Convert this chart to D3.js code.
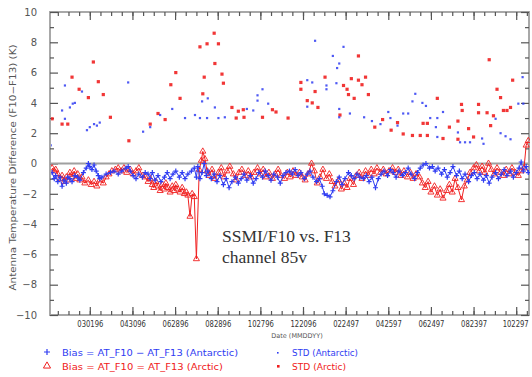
<!DOCTYPE html>
<html><head><meta charset="utf-8">
<script src="https://cdn.jsdelivr.net/npm/d3@7"></script>
<style>
html,body{margin:0;padding:0;background:#fff;}
svg{display:block;}
</style></head>
<body>
<svg id="c" width="532" height="377"></svg>
<script>
// ---- data (days since 1 Jan 1996) ----
const tickDays = [60,120,180,240,300,360,420,480,540,600,660];
const tickLabels = ["030196","043096","062896","082896","102796","122096","022497","042597","062497","082397","102297"];
const yTicks = [-10,-8,-6,-4,-2,0,2,4,6,8,10];

const biasAntDays = [7,10,12,15,18,21,24,27,29,32,35,39,43,46,51,55,58,60,63,66,69,72,74,77,83,89,94,100,105,111,114,117,121,125,129,134,138,142,145,148,152,156,160,165,169,173,177,181,186,190,194,198,203,207,210,212,215,218,221,224,226,231,235,239,243,248,252,256,260,265,269,273,277,281,286,290,294,298,303,307,311,315,319,324,328,332,336,341,345,349,353,357,362,366,370,374,379,383,387,390,394,398,402,407,411,415,419,424,428,432,436,440,445,449,453,457,462,466,470,474,479,483,487,491,495,500,504,508,512,517,521,525,529,533,538,542,546,550,555,559,563,567,571,576,580,584,588,593,597,601,605,609,614,618,622,626,631,635,639,643,647,652,656,660,664,667,670,674,677];
const biasAntVals = [-0.6,-1.0,-0.8,-1.2,-0.9,-1.5,-1.1,-1.3,-0.9,-1.0,-1.2,-0.8,-0.9,-1.1,-0.6,-0.3,0.0,-0.2,-0.4,-0.1,-0.5,-0.8,-1.0,-0.9,-0.7,-0.6,-0.5,-0.7,-0.5,-0.3,-0.2,-0.5,-0.8,-1.0,-0.7,-0.9,-0.6,-0.7,-1.0,-0.6,-1.1,-0.8,-1.2,-0.9,-0.6,-1.0,-0.7,-0.5,-0.9,-0.6,-1.0,-0.7,-0.5,-0.3,-0.9,-0.2,-1.0,-0.6,0.0,-0.8,-0.5,-1.0,-0.7,-1.2,-0.8,-1.4,-1.0,-1.6,-1.2,-0.9,-1.3,-1.0,-0.7,-1.1,-0.8,-1.3,-1.0,-0.6,-0.9,-0.5,-0.8,-1.1,-0.7,-0.9,-1.3,-0.8,-0.6,-0.5,-0.7,-0.4,-0.8,-0.6,-1.0,-0.7,-0.5,-0.9,-1.2,-1.0,-1.5,-2.0,-2.1,-2.2,-1.8,-1.2,-0.9,-1.4,-1.0,-0.6,-0.8,-1.0,-0.7,-0.9,-1.0,-0.8,-1.2,-0.9,-1.6,-1.0,-0.7,-0.5,-0.8,-0.4,-0.6,-0.9,-0.5,-0.8,-0.6,-0.3,-0.7,-1.0,-0.6,-0.3,-0.1,0.0,-0.3,-0.2,-0.5,-0.3,-0.7,-0.4,-0.9,-0.6,-0.2,-0.8,-0.5,-1.0,-0.7,-1.2,-0.8,-0.6,-1.0,-0.7,-1.1,-0.8,-1.3,-0.9,-0.6,-1.0,-0.7,-0.4,-0.8,-0.5,-0.9,-0.6,-0.3,0.1,-0.5,-0.2,-0.6];

const biasArcDays = [7,10,12,15,18,21,24,27,29,32,35,38,41,43,46,49,53,58,62,66,70,74,79,83,87,91,96,100,104,108,112,117,121,125,129,134,138,142,145,148,150,153,156,159,162,165,167,170,173,176,179,181,184,187,190,193,196,198,201,204,207,210,214,217,219,222,225,228,232,236,241,245,249,253,257,262,266,270,274,279,283,287,291,296,300,304,308,312,317,321,325,329,334,338,342,346,350,355,359,363,367,372,376,380,384,388,393,397,401,405,410,414,418,422,426,431,435,439,443,448,452,456,460,464,469,473,477,481,486,490,494,498,502,507,511,515,519,524,528,532,536,540,545,549,553,557,562,566,570,574,578,583,587,591,595,600,604,608,612,616,621,625,629,633,638,642,646,650,654,659,663,667,671,674,677];
const biasArcVals = [-0.3,-0.5,-0.4,-0.7,-1.0,-0.8,-1.2,-0.9,-1.1,-0.6,-0.9,-0.5,-1.0,-0.7,-1.1,-0.9,-1.3,-1.1,-1.4,-1.2,-1.5,-1.1,-1.3,-0.9,-0.7,-0.5,-0.4,-0.3,-0.5,-0.3,-0.6,-0.4,-0.7,-0.5,-0.3,-0.8,-0.9,-1.2,-1.0,-1.4,-1.6,-1.2,-1.5,-1.8,-1.4,-1.7,-1.3,-1.6,-1.9,-1.5,-1.8,-1.4,-1.7,-1.9,-1.6,-2.0,-1.9,-2.1,-3.5,-2.0,-2.2,-6.3,-0.4,0.2,0.8,0.3,-0.5,-0.8,-0.4,-1.0,-0.6,-0.3,-0.9,-0.5,-0.2,-0.7,-1.1,-0.6,-0.4,-0.8,-0.5,-0.9,-0.6,-0.3,-0.7,-0.4,-0.9,-0.6,-1.0,-0.7,-0.4,-0.8,-1.0,-0.6,-0.9,-0.5,-0.8,-0.6,-0.9,-1.1,-0.7,0.0,-0.5,-1.3,-0.9,-0.4,-1.0,-0.7,-1.2,-1.5,-1.1,-1.7,-1.3,-1.6,-1.0,-1.4,-0.8,-0.6,-1.0,-0.5,-0.8,-0.4,-0.7,-0.3,-0.6,-0.4,-0.7,-0.5,-0.3,-0.6,-0.4,-0.8,-0.5,-0.9,-0.6,-1.0,-0.7,-0.9,-1.3,-1.6,-1.2,-1.9,-1.5,-2.1,-1.7,-2.3,-1.8,-1.4,-1.9,-1.0,-1.6,-2.4,-1.5,-1.1,-0.6,-0.3,-0.1,-0.5,-0.2,-0.6,0.0,-0.4,-0.7,-0.3,-0.6,-0.8,-0.4,-0.7,-0.3,-0.6,-0.8,-0.5,-0.3,1.2,1.5];

const stdAntDays = [5,21,25,25,32,36,39,49,56,60,66,70,74,114,135,145,159,176,194,208,215,218,225,226,236,241,250,281,290,296,296,303,311,366,373,366,377,393,393,402,407,408,411,411,411,417,426,446,457,469,480,483,493,501,508,514,518,528,533,539,547,549,549,557,578,581,588,595,612,614,631,638,645,652,663,669,670];
const stdAntVals = [1.2,3.5,2.95,5.15,3.7,3.95,4.0,4.75,2.2,2.4,2.6,2.5,2.7,5.35,2.1,2.4,3.2,3.6,3.0,3.2,3.0,4.1,3.0,4.3,3.7,3.0,3.05,3.6,3.5,4.5,4.15,4.9,3.95,5.5,5.35,3.75,8.1,5.15,4.9,7.1,5.3,6.3,6.6,3.6,3.05,7.7,3.3,3.05,2.8,2.6,3.4,3.0,2.5,3.3,3.3,4.1,4.6,4.0,3.8,3.0,2.4,3.0,1.75,3.4,2.05,1.4,1.4,1.4,1.65,1.3,2.95,2.0,1.8,1.6,3.95,5.7,3.95];

const stdArcDays = [7,21,29,35,45,58,65,72,79,89,115,145,156,166,174,181,187,215,219,221,225,235,236,241,246,248,260,266,269,276,277,303,317,322,339,357,357,366,373,377,381,391,412,417,422,424,428,432,438,438,443,448,452,461,472,484,493,501,514,525,529,535,535,549,557,566,578,578,583,584,593,600,607,607,619,622,624,628,633,638,642,647,652,655];
const stdArcVals = [2.95,2.6,2.6,5.7,4.9,4.35,6.7,5.4,4.55,3.05,1.5,2.6,3.3,2.9,5.2,6.0,4.3,7.7,4.6,5.7,7.9,8.6,6.6,7.9,5.9,5.3,3.7,3.0,3.45,3.55,3.05,3.05,3.55,3.4,3.0,5.35,4.9,4.15,4.0,4.75,3.7,5.7,3.2,5.15,4.9,4.55,5.6,4.3,7.1,5.5,5.2,5.7,4.55,2.4,2.9,2.2,2.7,1.95,1.85,1.85,2.65,2.65,1.85,4.3,1.65,2.4,2.8,1.6,3.9,3.5,2.3,1.75,3.9,3.35,3.35,6.85,2.5,3.15,4.9,4.35,3.5,3.5,3.7,5.5];

// ---- drawing ----
const svg = d3.select("#c");
const L = 50, R = 529, T = 12, B = 315;
const x = d3.scaleLinear().domain([4, 678]).range([L, R]);
const y = d3.scaleLinear().domain([-10, 10]).range([B, T]);

const blue = "#2f3cf2", red = "#f02020";
const axisGray = "#a8a8a8", tickCol = "#555";

// frame
svg.append("rect").attr("x", L).attr("y", T).attr("width", R - L).attr("height", B - T)
  .attr("fill", "none").attr("stroke", axisGray).attr("stroke-width", 2);

const minorX = d3.range(15, 678, 15);
const minorY = d3.range(-9, 10, 2);
function drawAxis(gen, tf) {
  const g = svg.append("g").attr("transform", tf).call(gen);
  g.select(".domain").remove();
  g.selectAll(".tick line").attr("stroke", tickCol).attr("stroke-width", 1.2);
  g.selectAll("text").attr("fill", "#444").attr("font-family", "DejaVu Sans, sans-serif");
  return g;
}
// bottom
drawAxis(d3.axisBottom(x).tickValues(minorX).tickSize(-4).tickFormat(""), `translate(0,${B})`);
const gbM = drawAxis(d3.axisBottom(x).tickValues(tickDays).tickSize(-8).tickPadding(6)
  .tickFormat((d, i) => tickLabels[i]), `translate(0,${B})`);
gbM.selectAll(".tick text").attr("font-size", 8).attr("fill", "#333")
  .attr("textLength", 26).attr("lengthAdjust", "spacingAndGlyphs");
// keep last label inside the picture
gbM.selectAll(".tick text").filter((d, i) => i === tickDays.length - 1)
  .attr("text-anchor", "end").attr("x", 12);
// top
drawAxis(d3.axisTop(x).tickValues(minorX).tickSize(-4).tickFormat(""), `translate(0,${T})`);
drawAxis(d3.axisTop(x).tickValues(tickDays).tickSize(-8).tickFormat(""), `translate(0,${T})`);
// left
drawAxis(d3.axisLeft(y).tickValues(minorY).tickSize(-4).tickFormat(""), `translate(${L},0)`);
const gl = drawAxis(d3.axisLeft(y).tickValues(yTicks).tickSize(-8).tickPadding(13)
  .tickFormat(d => d < 0 ? "\u2212" + Math.abs(d) : d), `translate(${L},0)`);
gl.selectAll("text").attr("font-size", 10).attr("fill", "#555");
// right
drawAxis(d3.axisRight(y).tickValues(minorY).tickSize(-4).tickFormat(""), `translate(${R},0)`);
drawAxis(d3.axisRight(y).tickValues(yTicks).tickSize(-8).tickFormat(""), `translate(${R},0)`);

// zero line
svg.append("line").attr("x1", L).attr("x2", R).attr("y1", y(0)).attr("y2", y(0))
  .attr("stroke", "#a0a0a0").attr("stroke-width", 2);

// clip
svg.append("clipPath").attr("id", "clip").append("rect")
  .attr("x", L + 1).attr("y", T).attr("width", R - L).attr("height", B - T);
const plot = svg.append("g").attr("clip-path", "url(#clip)");

// STD points
plot.append("g").selectAll("rect").data(stdArcDays.map((d, i) => [d, stdArcVals[i]])).join("rect")
  .attr("x", d => x(d[0]) - 1.6).attr("y", d => y(d[1]) - 1.6).attr("width", 3.2).attr("height", 3.2)
  .attr("fill", red).attr("opacity", 0.9);
plot.append("g").selectAll("rect").data(stdAntDays.map((d, i) => [d, stdAntVals[i]])).join("rect")
  .attr("x", d => x(d[0]) - 1.1).attr("y", d => y(d[1]) - 1.1).attr("width", 2.2).attr("height", 2.2)
  .attr("fill", blue).attr("opacity", 0.85);

// bias series
const arc = biasArcDays.map((d, i) => [d, biasArcVals[i]]);
const ant = biasAntDays.map((d, i) => [d, biasAntVals[i]]);
const line = d3.line().x(d => x(d[0])).y(d => y(d[1]));
plot.append("path").datum(arc).attr("d", line).attr("fill", "none").attr("stroke", red).attr("stroke-width", 1);
plot.append("g").selectAll("path").data(arc).join("path")
  .attr("transform", d => `translate(${x(d[0])},${y(d[1])})`)
  .attr("d", d3.symbol(d3.symbolTriangle, 16)).attr("fill", "none").attr("stroke", red).attr("stroke-width", 0.9);
plot.append("path").datum(ant).attr("d", line).attr("fill", "none").attr("stroke", blue).attr("stroke-width", 1);
plot.append("g").selectAll("path").data(ant).join("path")
  .attr("transform", d => `translate(${x(d[0])},${y(d[1])})`)
  .attr("d", "M-2.5,0H2.5M0,-2.5V2.5").attr("fill", "none").attr("stroke", blue).attr("stroke-width", 1.2);

// annotation
svg.append("text").attr("x", 222).attr("y", 242).attr("font-family", "Liberation Serif, Times New Roman, serif")
  .attr("font-size", 17.5).attr("fill", "#333").text("SSMI/F10 vs. F13");
svg.append("text").attr("x", 222).attr("y", 263).attr("font-family", "Liberation Serif, Times New Roman, serif")
  .attr("font-size", 17.5).attr("fill", "#333").text("channel 85v");

// axis titles
svg.append("text").attr("transform", `translate(16,${(T + B) / 2 + 4}) rotate(-90)`).attr("text-anchor", "middle")
  .attr("font-family", "DejaVu Sans, sans-serif").attr("font-size", 9).attr("fill", "#555")
  .attr("textLength", 246).attr("lengthAdjust", "spacingAndGlyphs")
  .text("Antenna Temperature Difference (F10\u2212F13) (K)");
svg.append("text").attr("x", 297).attr("y", 338).attr("text-anchor", "middle")
  .attr("font-family", "DejaVu Sans, sans-serif").attr("font-size", 6.5).attr("fill", "#555")
  .text("Date (MMDDYY)");

// legend
const lg = svg.append("g").attr("font-family", "DejaVu Sans, sans-serif").attr("font-size", 9.5);
lg.append("path").attr("transform", "translate(47,352)").attr("d", "M-3,0H3M0,-3V3")
  .attr("stroke", blue).attr("stroke-width", 1.2);
lg.append("text").attr("x", 62).attr("y", 356).attr("fill", blue).attr("textLength", 176).attr("lengthAdjust", "spacingAndGlyphs")
  .text("Bias = AT_F10 \u2212 AT_F13 (Antarctic)");
lg.append("path").attr("transform", "translate(47,366)").attr("d", d3.symbol(d3.symbolTriangle, 22))
  .attr("fill", "none").attr("stroke", red).attr("stroke-width", 1);
lg.append("text").attr("x", 62).attr("y", 370).attr("fill", red).attr("textLength", 161).attr("lengthAdjust", "spacingAndGlyphs")
  .text("Bias = AT_F10 = AT_F13 (Arctic)");
lg.append("rect").attr("x", 277).attr("y", 352).attr("width", 1.6).attr("height", 1.6).attr("fill", blue);
lg.append("text").attr("x", 292).attr("y", 356).attr("fill", blue).attr("textLength", 66).attr("lengthAdjust", "spacingAndGlyphs")
  .text("STD (Antarctic)");
lg.append("rect").attr("x", 277).attr("y", 365).attr("width", 2.6).attr("height", 2.6).attr("fill", red);
lg.append("text").attr("x", 292).attr("y", 370).attr("fill", red).attr("textLength", 54).attr("lengthAdjust", "spacingAndGlyphs")
  .text("STD (Arctic)");
</script>
</body></html>
